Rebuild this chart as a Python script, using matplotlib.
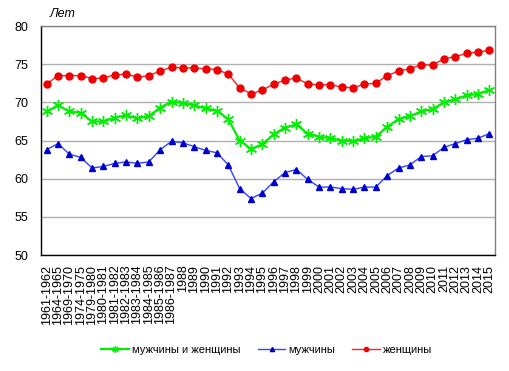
import matplotlib
matplotlib.use("Agg")
import matplotlib.pyplot as plt

plt.rcParams['font.family'] = ['Liberation Sans', 'DejaVu Sans']

labels = ["1961-1962", "1964-1965", "1969-1970", "1974-1975", "1979-1980",
          "1980-1981", "1981-1982", "1982-1983", "1983-1984", "1984-1985",
          "1985-1986", "1986-1987"] + [str(y) for y in range(1988, 2016)]

both = [68.8, 69.6, 68.8, 68.6, 67.5, 67.5, 68.0, 68.3, 67.9, 68.2,
        69.3, 70.1, 69.9, 69.6, 69.2, 68.9, 67.8, 65.0, 63.9, 64.5,
        65.8, 66.7, 67.1, 65.9, 65.5, 65.3, 65.0, 64.9, 65.3, 65.5,
        66.8, 67.8, 68.2, 68.8, 69.1, 70.0, 70.4, 70.9, 71.1, 71.6]
men = [63.8, 64.6, 63.2, 62.8, 61.4, 61.6, 62.0, 62.2, 62.0, 62.2,
       63.8, 64.9, 64.7, 64.2, 63.7, 63.4, 61.8, 58.7, 57.4, 58.1,
       59.6, 60.8, 61.2, 59.9, 58.9, 58.9, 58.7, 58.6, 58.9, 58.9,
       60.4, 61.4, 61.8, 62.9, 63.0, 64.1, 64.6, 65.1, 65.3, 65.9]
women = [72.4, 73.5, 73.5, 73.5, 73.1, 73.2, 73.6, 73.7, 73.3, 73.5,
         74.1, 74.6, 74.5, 74.5, 74.4, 74.3, 73.7, 71.9, 71.1, 71.6,
         72.4, 72.9, 73.2, 72.4, 72.3, 72.3, 72.0, 71.9, 72.4, 72.5,
         73.5, 74.1, 74.4, 74.9, 74.9, 75.7, 76.0, 76.4, 76.6, 76.8]

series_names = ["мужчины и женщины", "мужчины", "женщины"]

fig = plt.figure(figsize=(5.09, 3.71), dpi=100)
ax = fig.add_axes([41/509, 1-255/371, 454/509, 229/371])

x = list(range(len(labels)))
ax.plot(x, both, color='#00EE00', lw=1.6, marker=(6, 2, 0), ms=8, mew=1.0,
        label=series_names[0], zorder=3)
ax.plot(x, men, color='#3344FF', lw=1.0, marker='^', ms=5, mfc='#0000CC',
        mec='#0000CC', label=series_names[1], zorder=3)
ax.plot(x, women, color='#FF2020', lw=1.0, marker='o', ms=5, mfc='#EE0000',
        mec='#EE0000', label=series_names[2], zorder=3)

ax.set_xlim(-0.5, len(labels) - 0.5)
ax.set_ylim(50, 80)
ax.set_yticks(range(50, 81, 5))
ax.set_xticks(x)
ax.set_xticklabels(labels, rotation=90, fontsize=9)
ax.tick_params(axis='both', length=0)
ax.tick_params(axis='y', labelsize=9, pad=9)
ax.tick_params(axis='x', pad=7)
ax.grid(axis='y', color='#B0B0B0', lw=1.0, zorder=0)
ax.set_axisbelow(True)
for s in ['top', 'right']:
    ax.spines[s].set_color('#808080')
    ax.spines[s].set_linewidth(1.0)
for s in ['left', 'bottom']:
    ax.spines[s].set_color('black')
    ax.spines[s].set_linewidth(1.0)

fig.text(50/509, 1-14/371, "Лет", fontsize=9, style='italic', va='center', ha='left')

fig.legend(loc='center', bbox_to_anchor=(267/509, 1-350/371), ncol=3,
           frameon=False, fontsize=8, markerscale=0.6, handlelength=2.5,
           columnspacing=1.5, handletextpad=0.3)

fig.savefig("out.png", dpi=100)
